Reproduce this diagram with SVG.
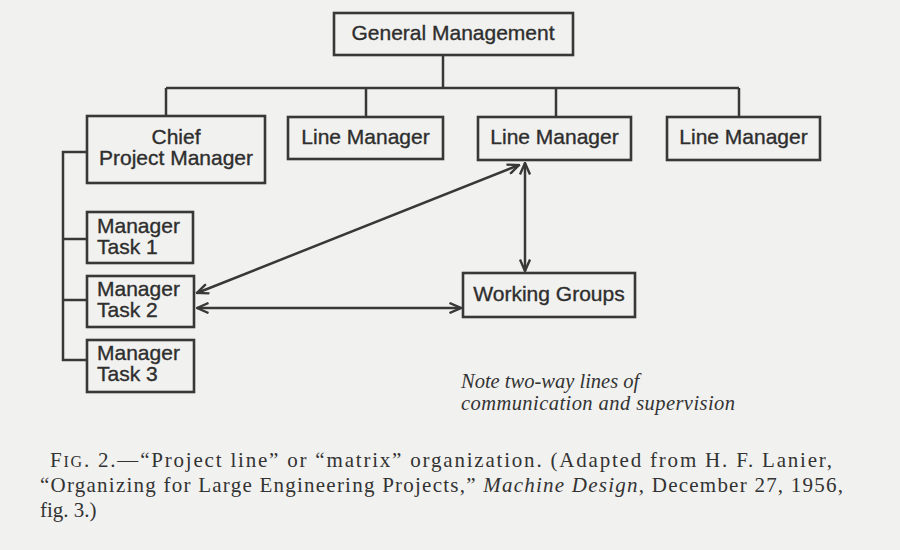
<svg xmlns="http://www.w3.org/2000/svg" width="900" height="550" viewBox="0 0 900 550">
  <defs>
    <style>
      .bg { fill: #f1f1ef; }
      .box { fill: none; stroke: #383838; stroke-width: 2.6; }
      .lbl { font-family: "Liberation Sans", Arial, sans-serif; font-size: 21px; fill: #2e2e2e; stroke: #2e2e2e; stroke-width: 0.35; }
      .ln { fill: none; stroke: #383838; stroke-width: 2.5; }
      .arr { fill: none; stroke: #383838; stroke-width: 2.5; marker-start: url(#ah); marker-end: url(#ah); }
      .note { font-family: "Liberation Serif", "Times New Roman", serif; font-style: italic; font-size: 20.5px; fill: #333; }
      .cap { font-family: "Liberation Serif", "Times New Roman", serif; font-size: 21px; fill: #333; }
    </style>
    <marker id="ah" viewBox="0 0 14 12" refX="12.5" refY="6" markerWidth="14" markerHeight="12" markerUnits="userSpaceOnUse" orient="auto-start-reverse">
      <path d="M1,1 L12.5,6 L1,11" fill="none" stroke="#383838" stroke-width="2.4" stroke-linejoin="miter"/>
    </marker>
  </defs>
  <rect class="bg" x="0" y="0" width="900" height="550"/>

  <g id="connectors">
    <path class="ln" d="M443,55 V88"/>
    <path class="ln" d="M166,88 H739"/>
    <path class="ln" d="M166,88 V116"/>
    <path class="ln" d="M366,88 V117"/>
    <path class="ln" d="M556,88 V117"/>
    <path class="ln" d="M739,88 V117"/>
    <path class="ln" d="M87,152 H63 V360 H87"/>
    <path class="ln" d="M63,239 H87"/>
    <path class="ln" d="M63,300 H87"/>
    <path class="arr" d="M197,293 L519,165"/>
    <path class="arr" d="M525,163 V271"/>
    <path class="arr" d="M197,308 H461"/>
  </g>

  <g id="general-management">
    <rect class="box" x="334" y="13" width="239" height="42"/>
    <text class="lbl" x="453" y="40" text-anchor="middle" font-size="21.8">General Management</text>
  </g>

  <g id="chief-project-manager">
    <rect class="box" x="87" y="116" width="178" height="67"/>
    <text class="lbl" x="176" y="144" text-anchor="middle">Chief</text>
    <text class="lbl" x="176" y="165" text-anchor="middle">Project Manager</text>
  </g>

  <g id="line-manager-1">
    <rect class="box" x="288" y="117" width="155" height="42"/>
    <text class="lbl" x="365.5" y="144" text-anchor="middle">Line Manager</text>
  </g>

  <g id="line-manager-2">
    <rect class="box" x="478" y="117" width="153" height="43"/>
    <text class="lbl" x="554.5" y="144" text-anchor="middle">Line Manager</text>
  </g>

  <g id="line-manager-3">
    <rect class="box" x="667" y="117" width="153" height="43"/>
    <text class="lbl" x="743.5" y="144" text-anchor="middle">Line Manager</text>
  </g>

  <g id="manager-task-1">
    <rect class="box" x="87" y="212" width="106" height="51"/>
    <text class="lbl" x="97" y="233">Manager</text>
    <text class="lbl" x="97" y="254">Task 1</text>
  </g>

  <g id="manager-task-2">
    <rect class="box" x="87" y="276" width="107" height="51"/>
    <text class="lbl" x="97" y="296">Manager</text>
    <text class="lbl" x="97" y="317">Task 2</text>
  </g>

  <g id="manager-task-3">
    <rect class="box" x="87" y="340" width="107" height="52"/>
    <text class="lbl" x="97" y="360">Manager</text>
    <text class="lbl" x="97" y="381">Task 3</text>
  </g>

  <g id="working-groups">
    <rect class="box" x="463" y="273" width="172" height="44"/>
    <text class="lbl" x="549" y="301" text-anchor="middle">Working Groups</text>
  </g>

  <g id="note">
    <text class="note" x="461" y="388">Note two-way lines of</text>
    <text class="note" x="461" y="410" textLength="274" lengthAdjust="spacing">communication and supervision</text>
  </g>

  <g id="caption">
    <text class="cap" x="50" y="467" textLength="782" lengthAdjust="spacing">F<tspan font-size="16">IG</tspan>. 2.—“Project line” or “matrix” organization. (Adapted from H. F. Lanier,</text>
    <text class="cap" x="40" y="492" textLength="803" lengthAdjust="spacing">“Organizing for Large Engineering Projects,” <tspan font-style="italic">Machine Design</tspan>, December 27, 1956,</text>
    <text class="cap" x="40" y="517">fig. 3.)</text>
  </g>
</svg>
